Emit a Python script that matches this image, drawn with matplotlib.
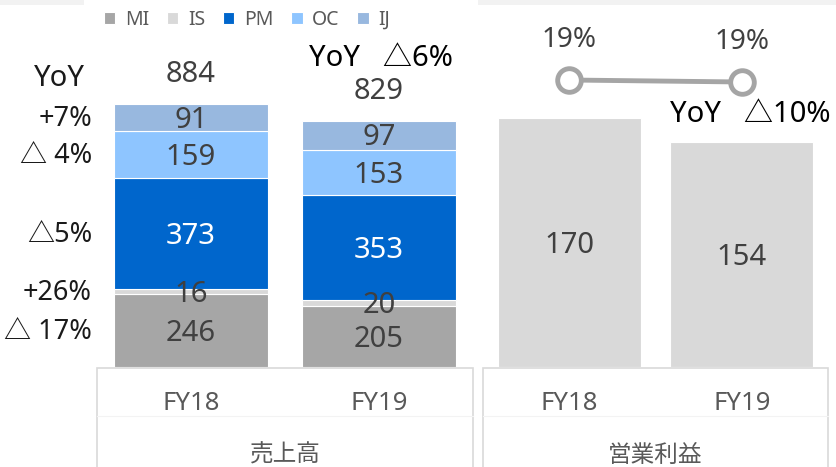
import matplotlib
matplotlib.use("Agg")
import matplotlib.pyplot as plt
from matplotlib.patches import Rectangle
import numpy as np

plt.rcParams['font.family'] = ['Noto Sans', 'Noto Sans CJK JP', 'DejaVu Sans']

# ---------------- data ----------------
years = ["FY18", "FY19"]
segments = ["MI", "IS", "PM", "OC", "IJ"]
MI = [246, 205]
IS = [16, 20]
PM = [373, 353]
OC = [159, 153]
IJ = [91, 97]
sales_total = [884, 829]
sales_yoy_seg = ["△ 17%", "+26%", "△5%", "△ 4%", "+7%"]   # MI, IS, PM, OC, IJ
sales_yoy_total = "YoY   △6%"
op_profit = [170, 154]
op_margin = [19.2, 18.6]
op_yoy = "YoY   △10%"
group_labels = ["売上高", "営業利益"]

seg_colors = ["#a6a6a6", "#d9d9d9", "#0066cc", "#8ec5ff", "#98b8df"]
op_color = "#d9d9d9"
line_color = "#a5a5a5"
txt_gray = "#404040"

W, H = 837, 467
fig = plt.figure(figsize=(W / 100, H / 100), dpi=100)

def fx(px):
    return px / W

def fy(py):
    return 1 - py / H

# top grey strips
for x0, x1 in [(0, 84), (478, 837)]:
    fig.add_artist(Rectangle((fx(x0), fy(5)), fx(x1 - x0), 5 / H,
                             transform=fig.transFigure, facecolor="#f2f2f2",
                             edgecolor="none"))

bottom_px = 367
# ---------------- left: sales ----------------
axL = fig.add_axes([fx(97), fy(bottom_px), fx(473 - 97), bottom_px / H])
x = np.arange(len(years))
bw = 0.824
series = [MI, IS, PM, OC, IJ]
bottoms = np.zeros(len(years))
bars_handles = []
seg_centers_fy18 = []
for name, vals, col in zip(segments, series, seg_colors):
    b = axL.bar(x, vals, bw, bottom=bottoms, color=col, edgecolor="white",
                linewidth=0.8, label=name, zorder=2)
    bars_handles.append(b)
    centers = bottoms + np.array(vals) / 2
    seg_centers_fy18.append(centers[0])
    for xi, c, v in zip(x, centers, vals):
        axL.annotate(str(v), (xi, c), xytext=(0, -2), textcoords="offset points",
                     ha="center", va="center", fontsize=21,
                     color="white" if name == "PM" else txt_gray, zorder=3)
    bottoms = bottoms + np.array(vals)

for xi, t in zip(x, sales_total):
    axL.annotate(str(t), (xi, t), xytext=(0, 21), textcoords="offset points",
                 ha="center", va="center", fontsize=21, color=txt_gray)

axL.set_xlim(-0.5, 1.5)
axL.set_ylim(0, 1234)
axL.axis("off")

# YoY segment labels (left)
for lab, c in zip(sales_yoy_seg, seg_centers_fy18):
    axL.annotate(lab, (fx(92), c), xycoords=("figure fraction", "data"),
                 xytext=(0, -1), textcoords="offset points",
                 ha="right", va="center", fontsize=19.5, color="#1a1a1a",
                 annotation_clip=False)
fig.text(fx(59), fy(78), "YoY", ha="center", va="center", fontsize=21,
         color="#1a1a1a")
fig.text(fx(381), fy(58), sales_yoy_total, ha="center", va="center",
         fontsize=21, color="black")

# ---------------- right: operating profit ----------------
axR = fig.add_axes([fx(483), fy(bottom_px), fx(828 - 483), bottom_px / H])
bwR = 0.83
axR.bar(x, op_profit, bwR, color=op_color, edgecolor="white", linewidth=0.8,
        zorder=2)
for xi, v in zip(x, op_profit):
    axR.annotate(str(v), (xi, v / 2), xytext=(0, -2), textcoords="offset points",
                 ha="center", va="center", fontsize=21, color=txt_gray)
axR.set_xlim(-0.5, 1.5)
axR.set_ylim(0, 250.9)
axR.axis("off")

axT = axR.twinx()
axT.plot(x, op_margin, color=line_color, lw=3.5, marker="o", markersize=17,
         markerfacecolor="white", markeredgecolor=line_color,
         markeredgewidth=3.5, zorder=4, clip_on=False)
for xi, m in zip(x, op_margin):
    axT.annotate(f"{m:.0f}%", (xi, m), xytext=(0, 29), textcoords="offset points",
                 ha="center", va="center", fontsize=20, color=txt_gray)
axT.set_ylim(-66.9, 43.2)
axT.set_xlim(-0.5, 1.5)
axT.axis("off")
fig.text(fx(750), fy(115), op_yoy, ha="center", va="center", fontsize=21,
         color="black")

# ---------------- category boxes ----------------
for (x0, x1), ax, glab in [((97, 473), axL, group_labels[0]),
                            ((483, 828), axR, group_labels[1])]:
    fig.add_artist(Rectangle((fx(x0), fy(480)), fx(x1 - x0), (480 - 368) / H,
                             transform=fig.transFigure, facecolor="none",
                             edgecolor="#d9d9d9", linewidth=1.2))
    fig.add_artist(plt.Line2D([fx(x0), fx(x1)], [fy(416), fy(416)],
                              transform=fig.transFigure, color="#f3f3f3",
                              linewidth=0.8))
    for xi, yr in zip(x, years):
        ax.annotate(yr, (xi, 0), xycoords=("data", "axes fraction"),
                    xytext=(0, -26), textcoords="offset points",
                    ha="center", va="center", fontsize=18.5, color="#595959",
                    annotation_clip=False)
    fig.text(fx((x0 + x1) / 2), fy(456), glab, ha="center", va="center",
             fontsize=17, color="#595959")

# ---------------- legend ----------------
leg = fig.legend([h[0] for h in bars_handles], segments, loc="center",
                 bbox_to_anchor=(fx(247), fy(20)), ncol=5, frameon=False,
                 fontsize=14, handlelength=0.6, handleheight=0.6,
                 handletextpad=0.5, columnspacing=0.9, borderpad=0)
for t in leg.get_texts():
    t.set_color("#595959")

fig.savefig("out.png", dpi=100)
